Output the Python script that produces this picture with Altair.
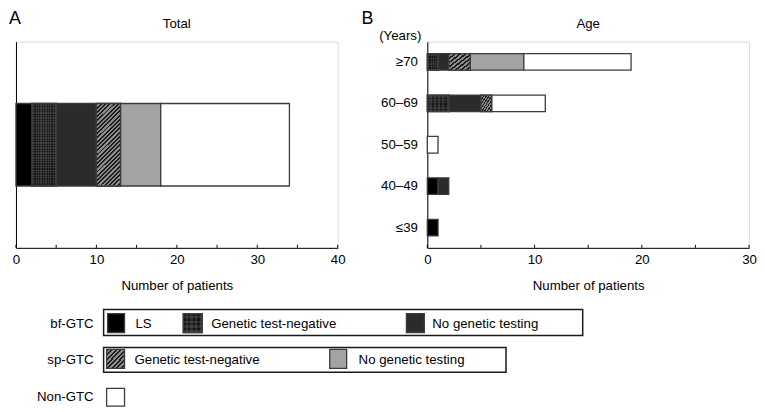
import altair as alt

# ---------------- data ----------------
cat_keys = ["LS", "bf_neg", "bf_none", "sp_neg", "sp_none", "non"]
total_group = ["Total"]
total_counts = [2, 3, 5, 3, 5, 16]

age_groups = ["≥70", "60–69", "50–59", "40–49", "≤39"]
age_ls = [0, 0, 0, 1, 1]
age_bf_neg = [1, 2, 0, 0, 0]
age_bf_none = [1, 3, 0, 1, 0]
age_sp_neg = [2, 1, 0, 0, 0]
age_sp_none = [5, 0, 0, 0, 0]
age_non = [10, 5, 1, 0, 0]

ticks_a = [0, 5, 10, 15, 20, 25, 30, 35, 40]
ticks_b = [0, 5, 10, 15, 20, 25, 30]

# ---------------- styling ----------------
FONT = "Liberation Sans"
FS = 13.3
W, H = 323, 207
STROKE = "#3c3c3c"
cat_colors = ["#000000", "#141414", "#2b2b2b", "#555555", "#a3a3a3", "#ffffff"]


def stripes(n, a, b, c1, c2, frac):
    stops = []
    for k in range(n):
        s = round(k / n, 5)
        m = round((k + frac) / n, 5)
        e = round((k + 1) / n, 5)
        stops += [{"offset": s, "color": c1}, {"offset": m, "color": c1},
                  {"offset": m, "color": c2}, {"offset": e, "color": c2}]
    return {"gradient": "linear", "x1": 0, "y1": 0, "x2": a, "y2": b, "stops": stops}


CLEAR = "rgba(0,0,0,0)"
GRIDC = "rgba(95,95,95,0.35)"


def records_total():
    rows = []
    for i, k in enumerate(cat_keys):
        rows.append({"group": total_group[0], "cat": k, "order": i, "count": total_counts[i]})
    return rows


def records_age():
    series = [age_ls, age_bf_neg, age_bf_none, age_sp_neg, age_sp_none, age_non]
    rows = []
    for gi, g in enumerate(age_groups):
        for i, k in enumerate(cat_keys):
            rows.append({"group": g, "cat": k, "order": i, "count": series[i][gi]})
    return rows


def one():
    return alt.Data(values=[{}])


def txt(s, x, y, size=FS, align="left", baseline="middle"):
    return alt.Chart(one()).mark_text(
        text=s, align=align, baseline=baseline, fontSize=size, font=FONT, color="black"
    ).encode(x=alt.value(x), y=alt.value(y))


def rect(x1, x2, y1, y2, fill, stroke=STROKE, sw=1.3):
    return alt.Chart(one()).mark_rect(fill=fill, stroke=stroke, strokeWidth=sw).encode(
        x=alt.value(x1), x2=alt.value(x2), y=alt.value(y1), y2=alt.value(y2))


def panel(records, xmax, ticks, ydomain, yscale, yaxis, hatch, gv, gh, extra):
    xaxis = alt.Axis(values=list(range(0, xmax + 1, 10)), format="d", tickSize=0,
                     labelPadding=5, labelFontSize=FS, labelFont=FONT, labelColor="black",
                     labelFlush=False, domainColor="black", domainWidth=1, grid=False,
                     title="Number of patients", titleFont=FONT, titleFontSize=FS,
                     titleFontWeight="normal", titleColor="black", titlePadding=13)
    xscale = alt.Scale(domain=[0, xmax], nice=False)
    base = alt.Chart(alt.Data(values=records)).transform_filter("datum.count > 0").transform_stack(
        stack="count", as_=["x0", "x1"], groupby=["group"],
        sort=[alt.SortField("order", order="ascending")])
    enc = dict(x=alt.X("x0:Q", scale=xscale, axis=xaxis), x2="x1:Q",
               y=alt.Y("group:N", scale=yscale, axis=yaxis, sort=ydomain))
    bars = base.mark_bar(stroke=STROKE, strokeWidth=1.3).encode(
        fill=alt.Fill("cat:N", scale=alt.Scale(domain=cat_keys, range=cat_colors), legend=None),
        **enc)
    hatch_l = base.transform_filter("datum.cat == 'sp_neg'").mark_bar(
        fill=hatch, stroke=STROKE, strokeWidth=1.3).encode(**enc)
    gv_l = base.transform_filter("datum.cat == 'bf_neg'").mark_bar(fill=gv, strokeWidth=0).encode(**enc)
    gh_l = base.transform_filter("datum.cat == 'bf_neg'").mark_bar(
        fill=gh, stroke=STROKE, strokeWidth=1.3).encode(**enc)
    tick_l = alt.Chart(alt.Data(values=[{"v": v} for v in ticks])).mark_rule(
        color="black", strokeWidth=1).encode(
        x=alt.X("v:Q", scale=xscale, axis=xaxis), y=alt.value(H), y2=alt.value(H - 3))
    return alt.layer(bars, hatch_l, gv_l, gh_l, tick_l, *extra).properties(width=W, height=H)


# ---------------- panel A (with legend) ----------------
legend_hatch = stripes(8, 1, 1, "#1a1a1a", "#8a8a8a", 0.45)
legend_gv = stripes(4, 1, 0, CLEAR, GRIDC, 0.5)
legend_gh = stripes(4, 0, 1, CLEAR, GRIDC, 0.5)

legend = [
    txt("A", -7, -18, size=18, baseline="alphabetic"),
    txt("Total", W / 2, -18, align="center"),
    rect(88, 569, 269, 295, "transparent", stroke="#1a1a1a", sw=1.5),
    rect(88, 492, 307, 332, "transparent", stroke="#1a1a1a", sw=1.5),
    txt("bf-GTC", 78, 283, align="right"),
    txt("sp-GTC", 78, 320, align="right"),
    txt("Non-GTC", 78, 357, align="right"),
    rect(92, 109, 273, 292, cat_colors[0]),
    txt("LS", 120, 283),
    rect(168, 187, 273, 292, cat_colors[1]),
    rect(168, 187, 273, 292, legend_gv, sw=0),
    rect(168, 187, 273, 292, legend_gh),
    txt("Genetic test-negative", 196, 283),
    rect(392, 410, 273, 292, cat_colors[2]),
    txt("No genetic testing", 418, 283),
    rect(91, 109, 309, 328, legend_hatch),
    txt("Genetic test-negative", 119, 320),
    rect(315, 332, 309, 328, cat_colors[4]),
    txt("No genetic testing", 344, 320),
    rect(91, 109, 348, 366, cat_colors[5]),
]

chart_a = panel(
    records_total(), 40, ticks_a, total_group,
    alt.Scale(paddingInner=0, paddingOuter=0.75),
    alt.Axis(labels=False, ticks=False, domain=True, domainColor="black", title=None, grid=False),
    stripes(25, 0.345, 1.19, "#1a1a1a", "#8a8a8a", 0.45),
    stripes(10, 1, 0, CLEAR, GRIDC, 0.5),
    stripes(33, 0, 1, CLEAR, GRIDC, 0.5),
    legend,
)

# ---------------- panel B ----------------
extra_b = [
    txt("B", -66, -18, size=18, baseline="alphabetic"),
    txt("Age", W / 2, -18, align="center"),
    txt("(Years)", -6, -6, align="right"),
]

chart_b = panel(
    records_age(), 30, ticks_b, age_groups,
    alt.Scale(domain=age_groups, paddingInner=0.6, paddingOuter=0.288),
    alt.Axis(labels=True, ticks=False, tickSize=0, labelPadding=10, labelFontSize=FS,
             labelFont=FONT, labelColor="black", domain=True, domainColor="black",
             title=None, grid=False),
    stripes(8, 1, 1, "#1a1a1a", "#8a8a8a", 0.45),
    stripes(5, 1, 0, CLEAR, GRIDC, 0.5),
    stripes(6, 0, 1, CLEAR, GRIDC, 0.5),
    extra_b,
)

chart = alt.hconcat(chart_a, chart_b, spacing=90, bounds="flush").properties(
    padding=0
).configure_view(stroke=None).configure(font=FONT)

chart.save("out.html", embed_options={"renderer": "svg", "actions": False})
